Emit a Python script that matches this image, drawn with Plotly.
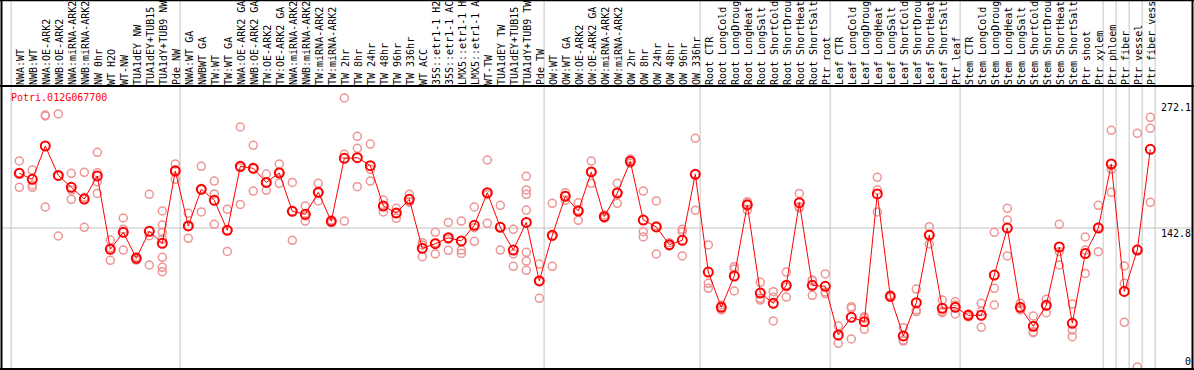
import plotly.graph_objects as go

gene = "Potri.012G067700"

labels = [
    "NWA:WT", "NWB:WT", "NWA:OE-ARK2", "NWB:OE-ARK2", "NWA:miRNA-ARK2", "NWB:miRNA-ARK2",
    "NW 0hr", "WT H2O", "WT-NW", "TUA1dEY NW", "TUA1dEY+TUB15 NW", "TUA1dY+TUB9 NW", "Pde NW",
    "NWA:WT GA", "NWBWT GA", "TW:WT", "TW:WT GA", "NWA:OE-ARK2 GA", "NWB:OE-ARK2 GA",
    "TW:OE-ARK2", "TW:OE-ARK2 GA", "NWA:miRNA-ARK2", "NWB:miRNA-ARK2", "TW:miRNA-ARK2",
    "TW:miRNA-ARK2", "TW 2hr", "TW 8hr", "TW 24hr", "TW 48hr", "TW 96hr", "TW 336hr",
    "WT ACC", "35S::etr1-1 H2O", "35S::etr1-1 ACC", "LMX5::etr1-1 H2O", "LMX5::etr1-1 ACC",
    "WT-TW", "TUA1dEY TW", "TUA1dEY+TUB15 TW", "TUA1dY+TUB9 TW", "Pde TW",
    "OW:WT", "OW:WT GA", "OW:OE-ARK2", "OW:OE-ARK2 GA", "OW:miRNA-ARK2", "OW:miRNA-ARK2",
    "OW 2hr", "OW 8hr", "OW 24hr", "OW 48hr", "OW 96hr", "OW 336hr",
    "Root CTR", "Root LongCold", "Root LongDrought", "Root LongHeat", "Root LongSalt",
    "Root ShortCold", "Root ShortDrought", "Root ShortHeat", "Root ShortSalt", "Ptr root",
    "Leaf CTR", "Leaf LongCold", "Leaf LongDrought", "Leaf LongHeat", "Leaf LongSalt",
    "Leaf ShortCold", "Leaf ShortDrought", "Leaf ShortHeat", "Leaf ShortSalt", "Ptr leaf",
    "Stem CTR", "Stem LongCold", "Stem LongDrought", "Stem LongHeat", "Stem LongSalt",
    "Stem ShortCold", "Stem ShortDrought", "Stem ShortHeat", "Stem ShortSalt", "Ptr shoot",
    "Ptr xylem", "Ptr phloem", "Ptr fiber", "Ptr vessel", "Ptr fiber vessel",
]

means = [
    199.0, 192.8, 227.1, 196.9, 184.6, 172.6, 196.3, 120.9, 138.4, 111.7, 139.4, 127.1, 201.4,
    144.9, 182.6, 171.3, 140.4, 206.2, 204.1, 189.7, 199.3, 160.0, 156.9, 179.5, 149.7,
    214.4, 215.1, 206.9, 165.4, 158.2, 172.3, 121.9, 126.7, 132.9, 129.5, 145.6, 179.1,
    143.5, 120.2, 148.6, 88.4,
    135.3, 175.4, 160.3, 200.4, 154.5, 178.8, 211.3, 151.0, 143.9, 125.7, 130.2, 198.0,
    97.6, 61.3, 93.5, 166.5, 76.0, 65.4, 83.9, 168.9, 83.9, 82.9,
    32.9, 51.0, 46.6, 177.8, 72.6, 31.9, 66.1, 135.6, 60.3, 61.3,
    53.1, 53.1, 94.5, 142.8, 61.3, 41.8, 63.4, 123.3, 44.9, 116.5, 142.8,
    208.6, 77.7, 120.2, 223.7,
]

replicates = [
    [211.7, 199.7, 184.6], [202.4, 187.0, 184.6], [258.9, 257.9, 164.4], [260.0, 196.3, 134.6],
    [199.0, 181.9, 172.3], [200.0, 174.3, 143.5], [220.6, 199.7, 190.4, 178.4],
    [130.5, 122.6, 109.6], [153.1, 141.5, 120.2], [113.4, 111.7, 109.9], [177.4, 134.9, 104.8],
    [160.3, 145.9, 138.4, 131.5, 112.7, 102.4, 98.0], [208.6, 202.8, 192.8],
    [157.9, 144.5, 132.2], [206.2, 182.2, 159.3], [191.1, 177.8, 146.6], [162.0, 140.4, 118.8],
    [246.6, 204.8, 167.1], [227.8, 203.8, 180.8], [198.3, 189.7, 181.5], [208.6, 200.7, 188.7],
    [189.7, 160.0, 130.2], [165.4, 155.2, 150.0], [188.7, 179.1, 170.6], [151.0, 149.7, 148.3],
    [276.4, 218.5, 150.0], [237.0, 224.7, 185.3], [229.1, 203.1, 191.1], [171.6, 165.4, 159.3],
    [163.0, 157.9, 152.8], [177.4, 169.9, 169.5], [127.8, 125.4, 113.4], [138.4, 127.8, 116.1],
    [148.6, 131.2, 119.9], [150.0, 120.2, 116.8], [164.4, 143.2, 129.1], [212.7, 177.1, 147.6],
    [166.1, 144.2, 120.2], [141.5, 116.1, 103.4],
    [195.9, 181.9, 177.4, 161.3, 117.8, 108.9, 99.3], [105.8, 88.7, 70.6],
    [168.2, 134.3, 103.4], [179.1, 175.7, 171.3], [168.9, 161.3, 150.7], [211.7, 200.7, 188.7],
    [156.2, 154.5, 152.8], [188.7, 179.5, 168.2], [213.7, 211.3, 209.3], [180.8, 139.1, 133.6],
    [170.6, 144.9, 116.1], [127.8, 125.4, 124.3], [141.5, 139.1, 114.1], [235.0, 198.0, 161.0],
    [125.4, 86.0, 80.8], [63.7, 61.3, 58.6], [103.1, 100.7, 78.1], [169.9, 168.2, 161.3],
    [87.0, 70.6, 68.8], [77.4, 71.6, 47.3], [97.6, 82.2, 71.9], [178.4, 164.7, 163.4],
    [89.4, 88.7, 73.6], [95.6, 77.1, 75.4],
    [42.1, 32.2, 24.3], [62.0, 60.3, 28.8], [51.7, 50.0, 38.7], [194.9, 181.9, 159.3],
    [74.0, 72.3, 71.6], [40.4, 27.7, 26.7], [80.1, 58.6, 56.9], [144.2, 135.6, 126.4],
    [68.8, 56.9, 55.8], [67.1, 63.7, 54.5],
    [54.5, 53.1, 51.7], [65.4, 56.9, 40.8], [138.4, 80.8, 63.7], [163.0, 151.0, 114.1],
    [65.4, 60.3, 58.6], [52.4, 36.3, 35.3], [69.5, 62.7, 55.8], [146.6, 118.5, 104.8],
    [64.7, 38.0, 31.2], [133.6, 120.2, 96.2], [166.1, 143.9, 118.5],
    [243.2, 203.1, 179.5], [103.8, 86.0, 45.9], [240.1, 120.9, 0.0], [256.5, 245.2, 169.2],
]

# index of the last category in each group (separator drawn after it)
group_ends = [-1, 12, 40, 52, 62, 72, 83, 84, 85, 86, 87]

y_tick_values = [272.1, 142.8, 0]
y_tick_texts = ["272.1", "142.8", "0"]
grid_value = 142.8

# ---------------------------------------------------------------
W, H = 1194, 370
MT, MB = 86, 1
plot_h = H - MT - MB
n = len(labels)
xs = list(range(n))

rx, ry = [], []
for i, reps in enumerate(replicates):
    for v in reps:
        rx.append(i)
        ry.append(v)

mono = "DejaVu Sans Mono"
fig = go.Figure()
fig.add_trace(go.Scatter(
    x=rx, y=ry, mode="markers",
    marker=dict(symbol="circle-open", size=8, color="#ee9494", line=dict(width=1.5, color="#ee9494")),
    hoverinfo="skip", showlegend=False,
))
fig.add_trace(go.Scatter(
    x=xs, y=means, mode="lines+markers",
    line=dict(color="#ff0000", width=1),
    marker=dict(symbol="circle-open", size=9, color="#ff0000", line=dict(width=2, color="#ff0000")),
    hoverinfo="skip", showlegend=False,
))

def ppx(px):
    return px / W

def ppy(py):
    return (H - MB - py) / plot_h

shapes = []
top_paper = ppy(0)
for g in group_ends:
    shapes.append(dict(type="line", xref="x", yref="paper", x0=g + 0.37, x1=g + 0.37,
                       y0=0, y1=top_paper, line=dict(color="#c4c4c4", width=1), layer="below"))
shapes.append(dict(type="line", xref="paper", yref="y", x0=0, x1=1, y0=grid_value, y1=grid_value,
                   line=dict(color="#c4c4c4", width=1), layer="below"))
# frame
blk = dict(color="black", width=2)
shapes += [
    dict(type="line", xref="paper", yref="paper", x0=ppx(1.5), x1=ppx(1.5), y0=ppy(370), y1=top_paper, line=blk),
    dict(type="line", xref="paper", yref="paper", x0=ppx(1192.5), x1=ppx(1192.5), y0=ppy(370), y1=top_paper, line=blk),
    dict(type="line", xref="paper", yref="paper", x0=0, x1=1, y0=ppy(0.5), y1=ppy(0.5), line=dict(color="black", width=1.5)),
    dict(type="line", xref="paper", yref="paper", x0=0, x1=1, y0=ppy(86), y1=ppy(86), line=blk),
    dict(type="line", xref="paper", yref="paper", x0=0, x1=1, y0=ppy(369), y1=ppy(369), line=blk),
]

annotations = [dict(text=gene, xref="paper", yref="paper", x=ppx(9), y=ppy(97), xanchor="left",
                    yanchor="middle", showarrow=False, font=dict(family=mono, size=10, color="#ff0000"))]
for v, t in zip(y_tick_values, y_tick_texts):
    shift = 6 if v == 0 else -5
    annotations.append(dict(text=t, xref="paper", yref="y", x=ppx(1193), y=v, xanchor="right",
                            yanchor="middle", yshift=shift, showarrow=False,
                            font=dict(family=mono, size=10, color="black")))

k = 0.9732  # px per unit
x_lo = -19.3 / 13.0
x_hi = (W - 19.3) / 13.0
y_lo = -(369 - 367) / k
y_hi = (367 - 86) / k

fig.update_layout(
    template="none",
    width=W, height=H,
    margin=dict(l=0, r=0, t=MT, b=MB, pad=0),
    paper_bgcolor="white", plot_bgcolor="white",
    showlegend=False, hovermode=False,
    xaxis=dict(range=[x_lo, x_hi], tickmode="array", tickvals=xs, ticktext=labels,
               side="top", tickangle=-90, ticks="", showgrid=False, zeroline=False,
               showline=False, automargin=False, fixedrange=True, ticklabelshift=1,
               tickfont=dict(family=mono, size=10, color="black")),
    yaxis=dict(range=[y_lo, y_hi], showticklabels=False, showgrid=False, zeroline=False,
               showline=False, automargin=False, fixedrange=True),
    shapes=shapes, annotations=annotations,
)

fig.write_html(
    "out.html",
    config={"staticPlot": True},
    post_script="document.body.style.margin='0';document.body.style.padding='0';document.body.style.overflow='hidden';",
)
